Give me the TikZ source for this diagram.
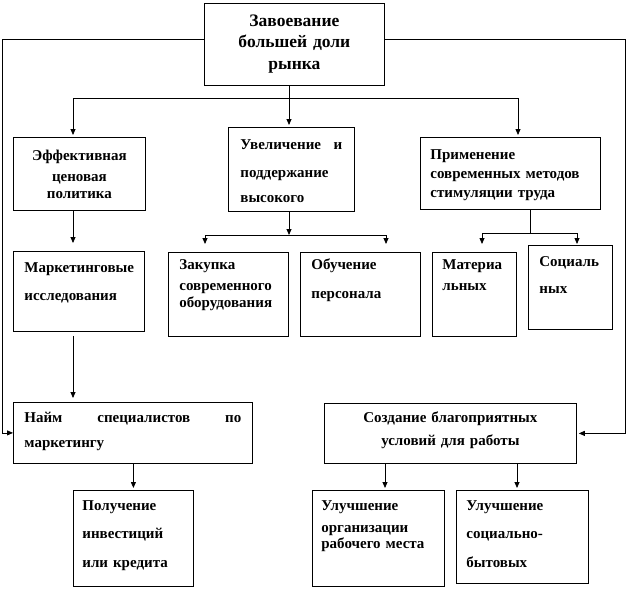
\documentclass[tikz,border=0pt]{standalone}
\usepackage{fontspec}
\setmainfont{Liberation Serif}
\usepackage{tikz}
\usetikzlibrary{arrows.meta, positioning, calc}
\newcommand{\cellfont}{\fontsize{15}{17}\selectfont\bfseries}
\newcommand{\goalfont}{\fontsize{17.5}{21.5}\selectfont\bfseries}
\tikzset{
  cell/.style={rectangle, draw=black, anchor=north west,
    inner ysep=0pt, inner xsep=10pt, align=left,
    font=\cellfont, line width=0.8pt},
  arrow/.style={-{Triangle[length=6pt,width=5pt]}, line width=0.8pt},
  line/.style={line width=0.8pt}
}
\begin{document}
\begin{tikzpicture}[x=1pt, y=-1pt]
  \useasboundingbox (0,0) rectangle (626,590);
  % Main goal
  \node[cell, align=center, font=\goalfont, text width=160pt, text height=23pt, text depth=59pt] (goal) at (204,3) {Завоевание\\большей доли\\рынка};

  % First level
  \node[cell, align=center, text width=112pt, text height=23pt, text depth=50pt] (price) at (13,137) {Эффективная\\[4pt]ценовая\\политика};
  \node[cell, inner xsep=12pt, text width=102pt, text height=22pt, text depth=62pt] (incr) at (228,127) {Увеличение\hfill и\hspace*{-9pt}\\[11pt]поддержание\\[8pt]высокого};
  \node[cell, text width=160pt, text height=22pt, text depth=50pt] (stim) at (420,137) {Применение\\[2pt]современных методов\\[2pt]стимуляции труда};

  % Second level
  \node[cell, inner xsep=11pt, text width=109pt, text height=21pt, text depth=59pt] (mark) at (13,251) {Маркетинговые\\[11pt]исследования};
  \node[cell, inner xsep=11pt, text width=98pt, text height=17pt, text depth=67pt] (buy) at (168,252) {Закупка\\[4pt]современного\\оборудования};
  \node[cell, inner xsep=11pt, text width=98pt, text height=17pt, text depth=67pt] (train) at (300,252) {Обучение\\[12pt]персонала};
  \node[cell, text width=64pt, text height=17pt, text depth=67pt] (mat) at (432,252) {Материа\\[4pt]льных};
  \node[cell, inner xsep=11pt, text width=62pt, text height=21pt, text depth=63pt] (soc) at (528,245) {Социаль\\[10pt]ных};

  % Third level
  \node[cell, inner xsep=11pt, text width=217pt, text height=20pt, text depth=41pt] (hire) at (13,402) {Найм\hfill специалистов\hfill по\\[8pt]маркетингу};
  \node[cell, align=center, text width=232pt, text height=19pt, text depth=41pt] (cond) at (324,403) {Создание благоприятных\\[6pt]условий для работы};

  % Fourth level
  \node[cell, inner xsep=9pt, text width=102pt, text height=20pt, text depth=76pt] (invest) at (73,490) {Получение\\[11pt]инвестиций\\[12pt]или кредита};
  \node[cell, inner xsep=9pt, text width=114pt, text height=20pt, text depth=76pt] (work) at (312,490) {Улучшение\\[5pt]организации\\[-1pt]рабочего места};
  \node[cell, text width=112pt, text height=20pt, text depth=73pt] (social) at (456,490) {Улучшение\\[11pt]социально-\\[12pt]бытовых};

  % Junctions
  \coordinate (lt) at (2,39);
  \coordinate (rt) at (625,39);
  \coordinate (jt) at (289,98);
  \coordinate (jl) at (73,98);
  \coordinate (jr) at (518,98);
  \coordinate (jc) at (289,235);
  \coordinate (ja) at (205,235);
  \coordinate (jb) at (386,235);
  \coordinate (js) at (530,233);
  \coordinate (jd) at (482,233);
  \coordinate (je) at (577,233);
  \coordinate (ka) at (385,0);
  \coordinate (kb) at (517,0);

  % Connectors
  \draw[arrow] (goal.west |- lt) -- (lt) |- (hire.west);
  \draw[arrow, shorten >=2pt] (goal.east |- rt) -- (rt) |- (cond.east);
  \draw[line] (jt |- goal.south) -- (jt);
  \draw[line] (jl) -- (jr);
  \draw[arrow, shorten >=2pt] (jl) -- (jl |- price.north);
  \draw[arrow, shorten >=2pt] (jt) -- (jt |- incr.north);
  \draw[arrow, shorten >=2pt] (jr) -- (jr |- stim.north);
  \draw[arrow, shorten >=8pt] (jl |- price.south) -- (jl |- mark.north);
  \draw[arrow] (jc |- incr.south) -- (jc);
  \draw[line] (ja) -- (jb);
  \draw[arrow, shorten >=8pt] (ja) -- (ja |- buy.north);
  \draw[arrow, shorten >=8pt] (jb) -- (jb |- train.north);
  \draw[line] (js |- stim.south) -- (js);
  \draw[line] (jd) -- (je);
  \draw[arrow, shorten >=8pt] (jd) -- (jd |- mat.north);
  \draw[arrow, shorten >=1pt] (je) -- (je |- soc.north);
  \draw[arrow, shorten <=4pt, shorten >=4pt] (jl |- mark.south) -- (jl |- hire.north);
  \draw[arrow, shorten >=2pt] (invest.north |- hire.south) -- (invest.north);
  \draw[arrow, shorten >=2pt] (ka |- cond.south) -- (ka |- work.north);
  \draw[arrow, shorten >=2pt] (kb |- cond.south) -- (kb |- social.north);
\end{tikzpicture}
\end{document}
